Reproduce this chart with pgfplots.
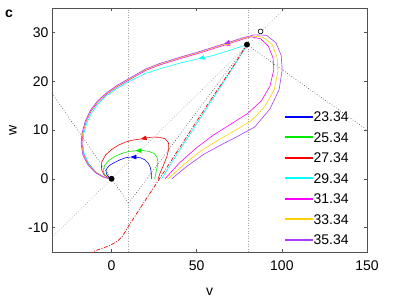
\documentclass[border=0pt]{standalone}
\usepackage{pgfplots}
\pgfplotsset{compat=1.18}
\usepackage{fontspec}
\setmainfont{Liberation Sans}
\usetikzlibrary{arrows.meta}
\definecolor{cBlue}{RGB}{0,0,255}
\definecolor{cGreen}{RGB}{0,235,0}
\definecolor{cRed}{RGB}{255,0,0}
\definecolor{cCyan}{RGB}{0,255,255}
\definecolor{cMag}{RGB}{255,0,255}
\definecolor{cYel}{RGB}{255,210,0}
\definecolor{cPur}{RGB}{170,60,255}
\definecolor{axgray}{RGB}{80,80,80}
\begin{document}
\begin{tikzpicture}
\useasboundingbox (-52pt,-48pt) rectangle (355pt,252pt);
\node[font=\fontsize{14}{14}\selectfont\bfseries] at (-43pt,238pt) {c};
\begin{axis}[
  at={(0pt,0pt)}, anchor=south west,
  scale only axis, width=315pt, height=244pt,
  xmin=-35, xmax=150, ymin=-15, ymax=35,
  xtick={0,50,100,150}, ytick={-10,0,10,20,30},
  tick align=inside, major tick length=3pt,
  axis line style={axgray, line width=0.6pt}, tick style={axgray, line width=0.6pt},
  /pgf/number format/assume math mode=true,
  tick label style={font=\fontsize{14}{14}\selectfont},
  xticklabel style={yshift=-5pt},
  xlabel={v}, ylabel={w},
  label style={font=\fontsize{14}{14}\selectfont},
  xlabel style={at={(axis description cs:0.5,-0.163)}, anchor=center},
  ylabel style={at={(axis description cs:-0.124,0.5)}, anchor=center},
  every axis plot/.append style={line width=0.6pt},
  legend image code/.code={\fill[#1] (0pt,-1pt) rectangle (28pt,1pt);},
  legend style={at={(axis cs:101.5,14.0)}, anchor=north west, draw=none, fill=none,
    font=\fontsize{14}{14}\selectfont, row sep=8.5pt, inner sep=0pt,
    nodes={inner sep=1pt, text height=10pt, text depth=0pt}},
  legend cell align=left,
]
\addlegendimage{fill=cBlue, draw=none}\addlegendentry{23.34}
\addlegendimage{fill=cGreen, draw=none}\addlegendentry{25.34}
\addlegendimage{fill=cRed, draw=none}\addlegendentry{27.34}
\addlegendimage{fill=cCyan, draw=none}\addlegendentry{29.34}
\addlegendimage{fill=cMag, draw=none}\addlegendentry{31.34}
\addlegendimage{fill=cYel, draw=none}\addlegendentry{33.34}
\addlegendimage{fill=cPur, draw=none}\addlegendentry{35.34}
% guide lines
\addplot[forget plot, black!35, dotted] coordinates {(10,-15) (10,35)};
\addplot[forget plot, black!35, dotted] coordinates {(80,-15) (80,35)};
\addplot[forget plot, black!40, dotted] coordinates {(-35,-12.0) (102,35)};
\addplot[forget plot, black!75, dotted] coordinates {(-35,17.5) (10,-5)};
\addplot[forget plot, black!75, dotted] coordinates {(10,-5) (79.5,27.5)};
\addplot[forget plot, black!75, dotted] coordinates {(79.5,27.5) (150,10)};
% blue
\addplot[forget plot, cBlue, -{Triangle[length=6pt,width=4.5pt]}] coordinates {
(23.34,0) (23.3,1.2) (22.8,2.3) (21.5,3.2) (19.5,3.9) (17,4.3) (14,4.45) (11,4.45)};
\addplot[forget plot, cBlue] coordinates {
(11,4.45) (8,4.3) (5,3.9) (2,3.4) (-1.5,2.7) (-3.3,1.8) (-3,1.0) (-1.6,0.35) (0,0)};
% green
\addplot[forget plot, cGreen, -{Triangle[length=6pt,width=4.5pt]}] coordinates {
(25.34,0) (26,1.2) (26.8,2.5) (27.2,3.5) (26.6,4.5) (25,5.2) (22,5.6) (18,5.8) (14,5.75)};
\addplot[forget plot, cGreen] coordinates {
(14,5.75) (10,5.6) (6,5.2) (2,4.6) (-1.5,3.8) (-4,2.8) (-5,1.7) (-4,0.8) (-2,0.25) (0,0)};
% red
\addplot[forget plot, cRed, -{Triangle[length=6pt,width=4.5pt]}] coordinates {
(27.34,0) (28.5,1.2) (30.5,2.8) (32.5,4.6) (33.6,6.2) (33.4,7.4) (31.5,8.2) (28,8.5) (24,8.55) (20,8.35) (17,8.15)};
\addplot[forget plot, cRed] coordinates {
(17,8.15) (12,7.9) (8,7.5) (4,6.9) (0,6.0) (-3.5,4.9) (-5.8,3.4) (-6,2.0) (-4.6,0.9) (-2.2,0.25) (0,0)};
% cyan
\addplot[forget plot, cCyan, -{Triangle[length=6pt,width=4.5pt]}] coordinates {
(29.34,0) (40,5.9) (50,11.3) (60,16.7) (70,22.1) (76,25.4) (79.5,27.5) (77,27.2) (70,26.4) (60,25.3) (51,24.6)};
\addplot[forget plot, cCyan] coordinates {
(51,24.6) (40,23.7) (28,22.5) (20,21.6) (10,19.9) (3,18.5) (-3,17) (-8,15.3) (-11.7,13.5) (-14.6,11.4)
(-16.4,9.1) (-16.9,7.1) (-16,5) (-13.4,3.1) (-9.2,1.4) (-4.8,0.45) (-1.4,0.05) (0,0)};
% magenta
\addplot[forget plot, cMag, -{Triangle[length=6pt,width=4.5pt]}] coordinates {
(31.34,0) (40,3.3) (50,6.4) (60,9) (70,11.2) (80,13.4) (88,16) (93,19) (95.3,22.4) (94.8,24.8) (92,27.2)
(87.5,28.7) (82,29.1) (77,28.6) (70,27.8) (66,27.35)};
\addplot[forget plot, cMag] coordinates {
(66,27.35) (60,26.7) (50,25.6) (40,24.6) (28,23.3) (20,22.2) (10,20.2) (3,18.8) (-3,17.3) (-8,15.7)
(-12,13.9) (-15,11.7) (-16.9,9.3) (-17.4,7.2) (-16.4,5.0) (-13.8,3.1) (-9.5,1.4) (-5,0.45) (-1.5,0.05) (0,0)};
% yellow
\addplot[forget plot, cYel, -{Triangle[length=6pt,width=4.5pt]}] coordinates {
(33.34,0) (42,2.8) (52,5.6) (62,7.8) (72,9.8) (82,11.9) (90,14.8) (95.5,18.3) (97.7,22) (97.2,24.9)
(94.3,27.5) (89,29.0) (83,29.25) (77,28.75) (70,27.95) (66,27.5)};
\addplot[forget plot, cYel] coordinates {
(66,27.5) (60,26.85) (50,25.75) (40,24.75) (28,23.45) (20,22.35) (10,20.35) (3,18.95) (-3,17.45) (-8.2,15.8)
(-12.2,14) (-15.2,11.75) (-17.1,9.3) (-17.6,7.15) (-16.6,4.95) (-14,3.05) (-9.6,1.4) (-5.1,0.42) (-1.5,0.04) (0,0)};
% purple
\addplot[forget plot, cPur, -{Triangle[length=6pt,width=4.5pt]}] coordinates {
(35.34,0) (44,2.5) (54,5.0) (64,6.9) (74,8.7) (84,10.6) (93,14.3) (98.4,18.3) (100.2,22.4) (99.6,25.3)
(96.5,27.9) (91,29.4) (84,29.5) (77,28.9) (70,28.1) (66,27.65)};
\addplot[forget plot, cPur] coordinates {
(66,27.65) (60,27) (50,25.9) (40,24.9) (28,23.6) (20,22.5) (10,20.5) (3,19.1) (-3,17.6) (-8.4,15.9)
(-12.5,14) (-15.5,11.8) (-17.4,9.3) (-17.9,7.1) (-16.9,4.9) (-14.2,3.0) (-9.8,1.35) (-5.2,0.4) (-1.5,0.03) (0,0)};
% red dash-dot on top
\addplot[forget plot, cRed, line width=0.7pt, dash pattern=on 4pt off 1.5pt on 1pt off 1.5pt] coordinates {
(-13,-15.5) (-10,-14.8) (-6,-14.3) (-2,-13.8) (1,-13.3) (4,-12.6) (6.5,-11.7) (8.6,-10.5) (10.5,-9.4)
(20,-4.3) (30,1) (40,6.4) (50,11.8) (60,17.1) (70,22.3) (79.5,27.5)};
% points
\addplot[forget plot, only marks, mark=*, mark size=2.6pt, black] coordinates {(0,0) (79.5,27.5)};
\addplot[forget plot, only marks, mark=*, mark size=2.4pt, draw=black, fill=white, mark options={line width=0.6pt}] coordinates {(87.5,30.2)};
\end{axis}
\end{tikzpicture}
\end{document}
